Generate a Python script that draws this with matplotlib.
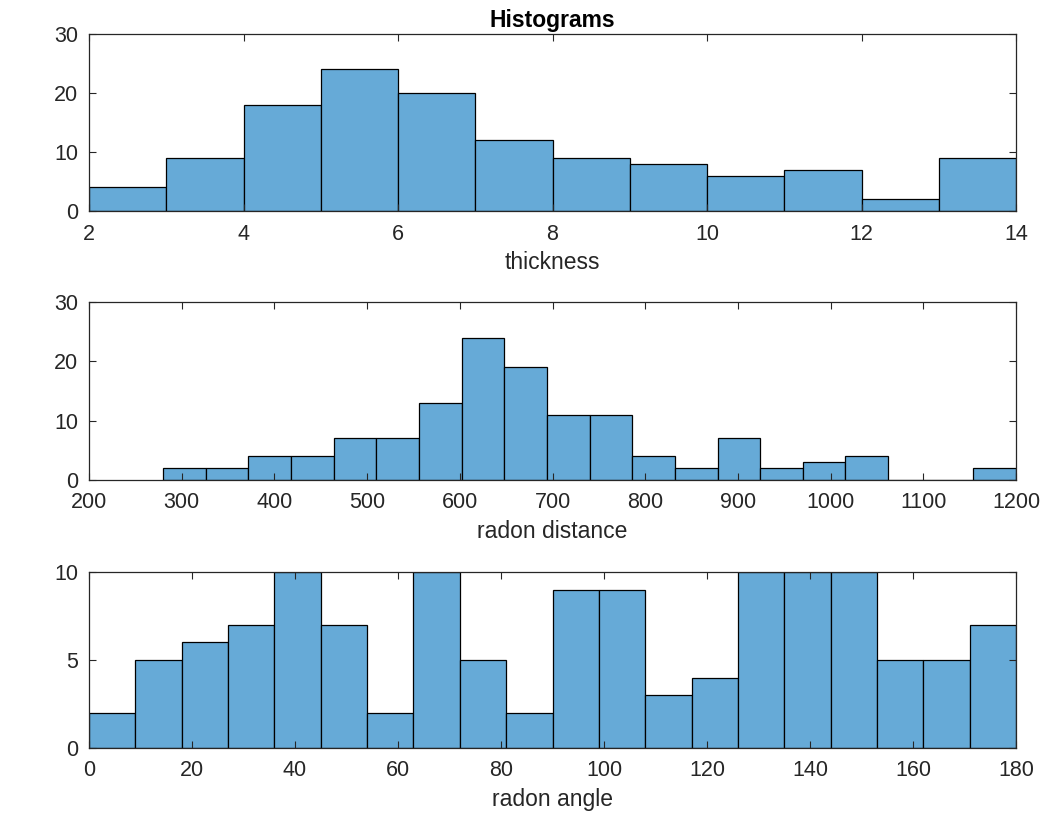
import numpy as np
import matplotlib.pyplot as plt

plt.rcParams['font.family'] = ['Liberation Sans', 'DejaVu Sans']

# thickness
thick_edges = list(range(2, 15))
thick_counts = [4, 9, 18, 24, 20, 12, 9, 8, 6, 7, 2, 9]

# radon distance
dist_edges = list(range(280, 1201, 46))
dist_counts = [2, 2, 4, 4, 7, 7, 13, 24, 19, 11, 11, 4, 2, 7, 2, 3, 4, 0, 0, 2]

# radon angle
ang_edges = list(range(0, 181, 9))
ang_counts = [2, 5, 6, 7, 10, 7, 2, 10, 5, 2, 9, 9, 3, 4, 10, 10, 10, 5, 5, 7]

face = (0.4, 0.668, 0.845)
axcol = '#262626'

fig = plt.figure(figsize=(10.45, 8.19), dpi=100)
W, H = 1045, 819
boxes = [(89, 34, 1016, 211), (89, 302, 1016, 480), (89, 572, 1016, 748)]

panels = [
    (thick_edges, thick_counts, (2, 14), (0, 30), range(2, 15, 2), [0, 10, 20, 30], 'thickness'),
    (dist_edges, dist_counts, (200, 1200), (0, 30), range(200, 1201, 100), [0, 10, 20, 30], 'radon distance'),
    (ang_edges, ang_counts, (0, 180), (0, 10), range(0, 181, 20), [0, 5, 10], 'radon angle'),
]

axes = []
for (x0, y0, x1, y1), (edges, counts, xl, yl, xt, yt, lab) in zip(boxes, panels):
    ax = fig.add_axes([x0 / W, 1 - y1 / H, (x1 - x0) / W, (y1 - y0) / H])
    e = np.array(edges, dtype=float)
    ax.bar(e[:-1], counts, width=np.diff(e), align='edge', color=face,
           edgecolor='black', linewidth=0.9, clip_on=True)
    ax.set_xlim(*xl)
    ax.set_ylim(*yl)
    ax.set_xticks(list(xt))
    ax.set_yticks(yt)
    ax.set_xlabel(lab, fontsize=16.5, color=axcol, labelpad=5)
    ax.tick_params(direction='in', top=True, right=True, labelsize=15.5,
                   colors=axcol, length=5, width=0.8)
    ax.tick_params(axis='x', pad=9)
    ax.tick_params(axis='y', pad=8)
    for s in ax.spines.values():
        s.set_color(axcol)
        s.set_linewidth(0.9)
    axes.append(ax)

axes[0].set_title('Histograms', fontsize=16.5, fontweight='bold', pad=5)

fig.savefig('out.png', dpi=100)
